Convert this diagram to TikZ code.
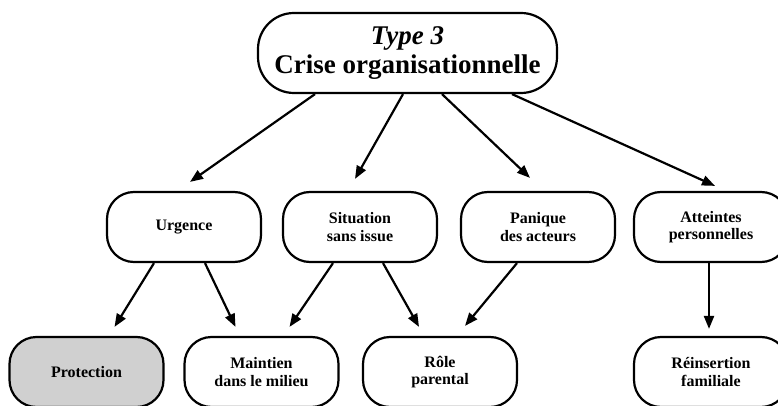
\documentclass[tikz,border=0pt]{standalone}
\usepackage{fontspec}
\setmainfont{Liberation Serif}
\usetikzlibrary{arrows.meta}
\definecolor{boxgray}{HTML}{D0D0D0}
\tikzset{
  box/.style={draw=black, line width=2.2pt, rounded corners=27pt, minimum width=154pt, minimum height=70pt, align=center, inner sep=2pt, font=\bfseries\fontsize{16}{17.5}\selectfont},
  topbox/.style={draw=black, line width=2.2pt, rounded corners=36pt, minimum width=299pt, minimum height=80pt, align=center, inner sep=2pt, font=\bfseries\fontsize{27}{29.5}\selectfont},
  arr/.style={line width=2.2pt, -{Triangle[length=13pt,width=10pt]}}
}
\begin{document}
\begin{tikzpicture}[x=1pt,y=-1pt]
\useasboundingbox (0,0) rectangle (778,406);
\clip (0,0) rectangle (778,406);
\fill[white] (0,0) rectangle (778,406);
\node[topbox] (top) at (407.5,53) {\textit{Type 3}\\Crise organisationnelle};
\node[box] (urg) at (184,227) {Urgence};
\node[box] (sit) at (360,227) {Situation\\sans issue};
\node[box] (pan) at (538,227) {Panique\\des acteurs};
\node[box] (att) at (711,227) {Atteintes\\personnelles};
\node[box, fill=boxgray] (pro) at (86.5,372) {Protection};
\node[box] (mai) at (261.5,372) {Maintien\\dans le milieu};
\node[box] (rol) at (440,372) {Rôle\\parental};
\node[box] (rei) at (711,372) {Réinsertion\\familiale};
\draw[arr] ([xshift=-92.5pt]top.south) -- ([xshift=6pt,yshift=9pt]urg.north);
\draw[arr] ([xshift=-4.5pt]top.south) -- ([xshift=-5pt,yshift=12pt]sit.north);
\draw[arr] ([xshift=34.5pt]top.south) -- ([xshift=-8pt,yshift=13pt]pan.north);
\draw[arr] ([xshift=104.5pt]top.south) -- ([xshift=4pt,yshift=5pt]att.north);
\draw[arr] ([xshift=-30pt]urg.south) -- ([xshift=28pt,yshift=9pt]pro.north);
\draw[arr] ([xshift=21pt]urg.south) -- ([xshift=-26pt,yshift=9pt]mai.north);
\draw[arr] ([xshift=-27pt]sit.south) -- ([xshift=28pt,yshift=9pt]mai.north);
\draw[arr] ([xshift=23pt]sit.south) -- ([xshift=-21pt,yshift=9pt]rol.north);
\draw[arr] ([xshift=-21pt]pan.south) -- ([xshift=25pt,yshift=10pt]rol.north);
\draw[arr] ([xshift=-2pt]att.south) -- ([xshift=-2pt,yshift=7pt]rei.north);
\end{tikzpicture}
\end{document}
